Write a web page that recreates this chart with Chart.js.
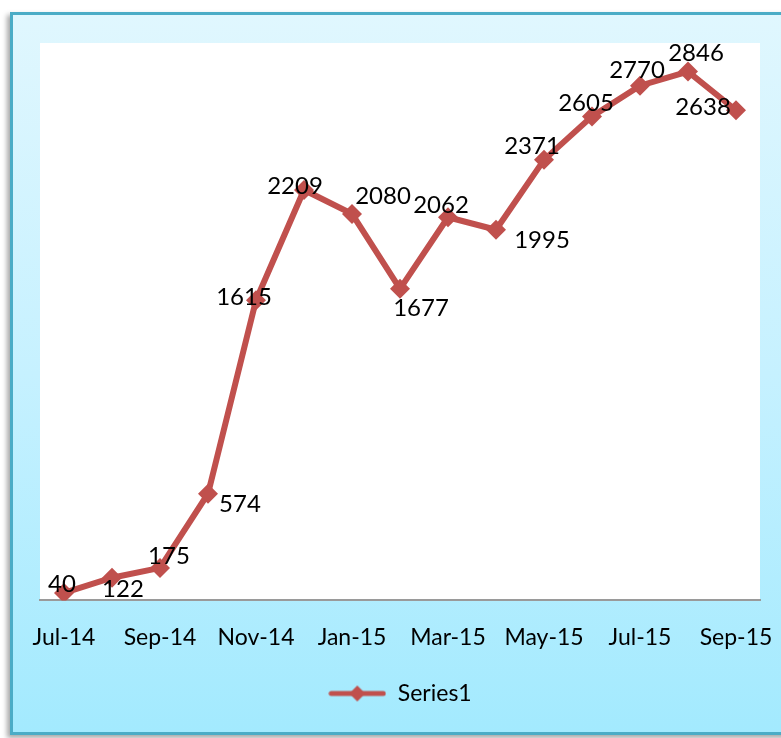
<!DOCTYPE html>
<html>
<head>
<meta charset="utf-8">
<script src="https://cdn.jsdelivr.net/npm/chart.js@4"></script>
<style>
  html, body { margin: 0; padding: 0; background: #ffffff; overflow: hidden; }
  .frame {
    position: absolute; left: 10px; top: 12px; width: 800px; height: 717px;
    border: 3px solid #4bacc6;
    background: linear-gradient(to bottom, #e0f7fe 0%, #c6f1ff 50%, #a3eafe 100%);
    box-shadow: -3px 3px 5px rgba(0,0,0,0.35);
  }
  .wrap { position: absolute; left: 0; top: 0; width: 781px; height: 738px; }
</style>
</head>
<body>
<div class="frame"></div>
<div class="wrap"><canvas id="lineChart" width="781" height="738"></canvas></div>
<script>
const months = ["Jul-14", "Aug-14", "Sep-14", "Oct-14", "Nov-14", "Dec-14", "Jan-15", "Feb-15",
  "Mar-15", "Apr-15", "May-15", "Jun-15", "Jul-15", "Aug-15", "Sep-15"];
const series1 = [40, 122, 175, 574, 1615, 2209, 2080, 1677, 2062, 1995, 2371, 2605, 2770, 2846, 2638];

// where each value label sits relative to its point (dx, dy)
const labelOffsets = [[-2, -9], [11, 12], [9, -12], [32, 11], [-12, -3], [-9, -4], [31, -18], [21, 19],
  [-7, -12], [46, 11], [-12, -14], [-6, -13], [-3, -15], [8, -18], [-33, -3]];

const red = "#c0504d";
const font = "Lato, 'DejaVu Sans', sans-serif";

// legend marker: line with a diamond
const legendIcon = document.createElement("canvas");
legendIcon.width = 58; legendIcon.height = 20;
(function () {
  const c = legendIcon.getContext("2d");
  c.strokeStyle = red; c.lineWidth = 5; c.lineCap = "round";
  c.beginPath(); c.moveTo(3, 10); c.lineTo(55, 10); c.stroke();
  c.fillStyle = red;
  c.beginPath(); c.moveTo(29, 2); c.lineTo(37, 10); c.lineTo(29, 18); c.lineTo(21, 10); c.closePath(); c.fill();
})();

const plotBackground = {
  id: "plotBackground",
  beforeDraw(chart) {
    const { ctx, chartArea: a } = chart;
    ctx.save();
    ctx.fillStyle = "#ffffff";
    ctx.fillRect(a.left, a.top, a.right - a.left, a.bottom - a.top);
    ctx.restore();
  }
};

const valueLabels = {
  id: "valueLabels",
  afterDatasetsDraw(chart) {
    const { ctx } = chart;
    const meta = chart.getDatasetMeta(0);
    ctx.save();
    ctx.font = "24px " + font;
    ctx.fillStyle = "#000000";
    ctx.textAlign = "center";
    ctx.textBaseline = "middle";
    meta.data.forEach((pt, i) => {
      const off = labelOffsets[i];
      ctx.fillText(String(series1[i]), pt.x + off[0], pt.y + off[1]);
    });
    ctx.restore();
  }
};

const ctx = document.getElementById("lineChart").getContext("2d");
new Chart(ctx, {
  type: "line",
  data: {
    labels: months,
    datasets: [
      {
        label: "Series1",
        data: series1,
        borderColor: red,
        backgroundColor: red,
        borderWidth: 6,
        pointStyle: "rectRot",
        pointRadius: 10,
        pointHoverRadius: 10,
        pointBackgroundColor: red,
        pointBorderColor: red,
        pointBorderWidth: 0,
        tension: 0,
        fill: false,
      },
    ],
  },
  options: {
    responsive: false,
    animation: false,
    layout: { padding: { left: 40, right: 21, top: 43, bottom: 23 } },
    plugins: {
      tooltip: { enabled: false },
      legend: {
        position: "bottom",
        labels: {
          usePointStyle: true,
          pointStyle: legendIcon,
          pointStyleWidth: 58,
          boxHeight: 20,
          padding: 8,
          color: "#000000",
          font: { family: font, size: 23 },
          generateLabels: (chart) => [{
            text: chart.data.datasets[0].label,
            pointStyle: legendIcon,
            fillStyle: red, strokeStyle: red, lineWidth: 0, datasetIndex: 0,
          }],
        },
      },
    },
    scales: {
      x: {
        type: "category",
        offset: true,
        grid: { display: false, drawTicks: false },
        border: { display: true, color: "#9a9a9a", width: 2 },
        afterFit: (scale) => { scale.paddingLeft = 0; scale.paddingRight = 0; },
        ticks: {
          autoSkip: false,
          maxRotation: 0,
          padding: 23,
          color: "#000000",
          font: { family: font, size: 23 },
          callback: (v, i) => (i % 2 === 0 ? months[i] : ""),
        },
      },
      y: {
        display: false,
        min: 0,
        max: 3000,
      },
    },
  },
  plugins: [plotBackground, valueLabels],
});
</script>
</body>
</html>
